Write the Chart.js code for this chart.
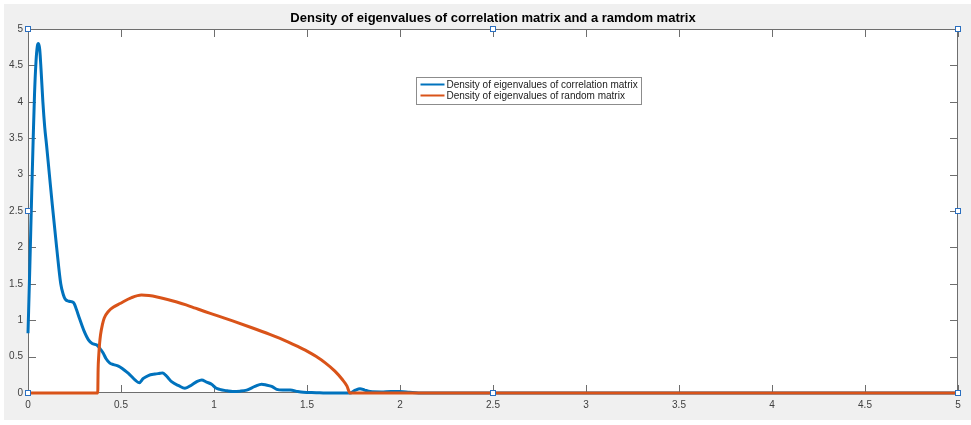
<!DOCTYPE html>
<html>
<head>
<meta charset="utf-8">
<script src="https://cdn.jsdelivr.net/npm/chart.js@4/dist/chart.umd.min.js"></script>
<style>
  html, body { margin: 0; padding: 0; background: #fff; }
  #wrap { width: 971px; height: 425px; }
</style>
</head>
<body>
<div id="wrap"><canvas id="eigChart" width="971" height="425"></canvas></div>
<script>
// ----------------------
// Data
// ----------------------
const chartTitle = "Density of eigenvalues of correlation matrix and a ramdom matrix";
const seriesLabels = ["Density of eigenvalues of correlation matrix", "Density of eigenvalues of random matrix"];
const seriesColors = ["#0072BD", "#D95319"];

const tickValues = [0, 0.5, 1, 1.5, 2, 2.5, 3, 3.5, 4, 4.5, 5];
const tickLabels = ["0", "0.5", "1", "1.5", "2", "2.5", "3", "3.5", "4", "4.5", "5"];

// empirical density (blue)
const corrX = [0, 0.01, 0.02, 0.028, 0.035, 0.043, 0.05, 0.056, 0.063, 0.07, 0.08, 0.09, 0.1, 0.115, 0.13,
  0.154, 0.176, 0.19, 0.2, 0.22, 0.245, 0.26, 0.276, 0.3, 0.325, 0.345, 0.37, 0.39, 0.404, 0.42, 0.44,
  0.46, 0.486, 0.51, 0.53, 0.548, 0.575, 0.598, 0.62, 0.647, 0.683, 0.71, 0.724, 0.74, 0.756, 0.772, 0.81,
  0.844, 0.88, 0.91, 0.934, 0.96, 0.987, 1.01, 1.03, 1.07, 1.1, 1.14, 1.176, 1.22, 1.256, 1.28, 1.31,
  1.337, 1.37, 1.41, 1.45, 1.48, 1.55, 1.6, 1.73, 1.76, 1.785, 1.81, 1.84, 1.9, 1.95, 2.0, 2.05, 2.1, 5];
const corrY = [0.82, 1.75, 2.75, 3.5, 4.1, 4.55, 4.76, 4.8, 4.72, 4.45, 4.0, 3.65, 3.4, 3.0, 2.6,
  2.0, 1.5, 1.35, 1.29, 1.26, 1.24, 1.15, 1.03, 0.86, 0.73, 0.68, 0.66, 0.6, 0.55, 0.47, 0.41,
  0.39, 0.37, 0.33, 0.29, 0.25, 0.18, 0.14, 0.2, 0.24, 0.26, 0.27, 0.276, 0.245, 0.2, 0.155, 0.1,
  0.065, 0.11, 0.16, 0.18, 0.15, 0.12, 0.07, 0.05, 0.03, 0.02, 0.025, 0.04, 0.09, 0.12, 0.11, 0.09,
  0.05, 0.04, 0.04, 0.02, 0.01, 0.005, 0, 0, 0.04, 0.06, 0.04, 0.02, 0.015, 0.02, 0.02, 0.01, 0, 0];

// theoretical density (orange)
const randX = [0, 0.375, 0.377, 0.38, 0.385, 0.39, 0.4, 0.41, 0.432, 0.46, 0.495, 0.557, 0.61, 0.65, 0.7, 0.75,
  0.8, 0.85, 0.9, 0.95, 1.0, 1.1, 1.2, 1.3, 1.4, 1.45, 1.5, 1.55, 1.6, 1.65, 1.69, 1.715, 1.731, 5];
const randY = [0, 0, 0.33, 0.5, 0.68, 0.8, 0.94, 1.03, 1.12, 1.18, 1.23, 1.31, 1.345, 1.338, 1.315, 1.285,
  1.25, 1.21, 1.165, 1.12, 1.077, 0.99, 0.9, 0.805, 0.7, 0.64, 0.575, 0.5, 0.41, 0.3, 0.185, 0.095, 0, 0];

const toPoints = (xs, ys) => xs.map((x, i) => ({ x, y: ys[i] }));

// ----------------------
// MATLAB-like frame, ticks, legend, handles
// ----------------------
const matlabFrame = {
  id: "matlabFrame",
  beforeDraw(chart) {
    const { ctx, width, height, chartArea: a } = chart;
    ctx.save();
    ctx.fillStyle = "#ffffff";
    ctx.fillRect(0, 0, width, height);
    ctx.fillStyle = "#f0f0f0";
    ctx.fillRect(4, 4, width - 4, height - 9);
    ctx.fillStyle = "#ffffff";
    ctx.fillRect(a.left, a.top, a.right - a.left, a.bottom - a.top);
    ctx.restore();
  },
  beforeDatasetsDraw(chart) {
    const { ctx, chartArea: a, scales } = chart;
    const tl = 8;
    ctx.save();
    ctx.strokeStyle = "#6e6e6e";
    ctx.lineWidth = 1;
    ctx.beginPath();
    ctx.rect(a.left + 0.5, a.top + 0.5, a.right - a.left - 1, a.bottom - a.top - 1);
    tickValues.forEach(v => {
      const px = Math.round(scales.x.getPixelForValue(v)) + 0.5;
      ctx.moveTo(px, a.bottom); ctx.lineTo(px, a.bottom - tl);
      ctx.moveTo(px, a.top); ctx.lineTo(px, a.top + tl);
      const py = Math.round(scales.y.getPixelForValue(v)) + 0.5;
      ctx.moveTo(a.left, py); ctx.lineTo(a.left + tl, py);
      ctx.moveTo(a.right, py); ctx.lineTo(a.right - tl, py);
    });
    ctx.stroke();
    ctx.restore();
  },
  afterDatasetsDraw(chart) {
    const { ctx, chartArea: a } = chart;
    ctx.save();

    // legend box
    const lx = 416.5, ly = 77.5, lw = 225, lh = 27;
    ctx.fillStyle = "#ffffff";
    ctx.fillRect(lx, ly, lw, lh);
    ctx.strokeStyle = "#8c8c8c";
    ctx.lineWidth = 1;
    ctx.strokeRect(lx, ly, lw, lh);
    ctx.font = "10px 'Liberation Sans', Arial, sans-serif";
    ctx.textBaseline = "middle";
    chart.data.datasets.forEach((ds, i) => {
      const y = ly + 7 + i * 11;
      ctx.strokeStyle = ds.borderColor;
      ctx.lineWidth = 2;
      ctx.beginPath();
      ctx.moveTo(lx + 4, y); ctx.lineTo(lx + 28, y);
      ctx.stroke();
      ctx.fillStyle = "#1a1a1a";
      ctx.fillText(ds.label, lx + 30, y + 0.5);
    });

    // selection handles
    const mx = (a.left + a.right) / 2, my = (a.top + a.bottom) / 2;
    const spots = [[a.left, a.top], [mx, a.top], [a.right, a.top], [a.left, my], [a.right, my],
      [a.left, a.bottom], [mx, a.bottom], [a.right, a.bottom]];
    ctx.lineWidth = 1;
    ctx.strokeStyle = "#2a6fc0";
    ctx.fillStyle = "#ffffff";
    spots.forEach(([x, y]) => {
      const rx = Math.round(x) - 2.5, ry = Math.round(y) - 2.5;
      ctx.fillRect(rx, ry, 5, 5);
      ctx.strokeRect(rx, ry, 5, 5);
    });
    ctx.restore();
  }
};

// ----------------------
// Chart
// ----------------------
const ctx = document.getElementById("eigChart").getContext("2d");
const chart = new Chart(ctx, {
  type: "line",
  data: {
    datasets: [
      {
        label: seriesLabels[0],
        data: toPoints(corrX, corrY),
        borderColor: seriesColors[0],
        borderWidth: 3,
        pointRadius: 0,
        cubicInterpolationMode: "monotone",
        fill: false,
        clip: false,
        order: 1
      },
      {
        label: seriesLabels[1],
        data: toPoints(randX, randY),
        borderColor: seriesColors[1],
        borderWidth: 3,
        pointRadius: 0,
        cubicInterpolationMode: "monotone",
        fill: false,
        clip: false,
        order: 0
      }
    ]
  },
  options: {
    responsive: false,
    animation: false,
    devicePixelRatio: 1,
    layout: { padding: { left: 0, right: 13, top: 0, bottom: 0 } },
    plugins: {
      legend: { display: false },
      tooltip: { enabled: false },
      title: {
        display: true,
        text: chartTitle,
        fullSize: false,
        color: "#000000",
        font: { family: "'Liberation Sans', Arial, sans-serif", size: 13, weight: "bold", lineHeight: 1.2 },
        padding: { top: 10.5, bottom: 2.9 }
      }
    },
    scales: {
      x: {
        type: "linear",
        min: 0,
        max: 5,
        afterBuildTicks: s => { s.ticks = tickValues.map(v => ({ value: v })); },
        afterFit: s => { s.height = 32; },
        grid: { display: false, drawTicks: false },
        border: { display: false },
        ticks: {
          padding: 6,
          maxRotation: 0,
          autoSkip: false,
          color: "#404040",
          font: { family: "'Liberation Sans', Arial, sans-serif", size: 10 },
          callback: (v, i) => tickLabels[i]
        }
      },
      y: {
        type: "linear",
        min: 0,
        max: 5,
        afterBuildTicks: s => { s.ticks = tickValues.map(v => ({ value: v })); },
        afterFit: s => { s.width = 28; },
        grid: { display: false, drawTicks: false },
        border: { display: false },
        ticks: {
          padding: 5,
          autoSkip: false,
          color: "#404040",
          font: { family: "'Liberation Sans', Arial, sans-serif", size: 10 },
          callback: (v, i) => tickLabels[i]
        }
      }
    }
  },
  plugins: [matlabFrame]
});
</script>
</body>
</html>
